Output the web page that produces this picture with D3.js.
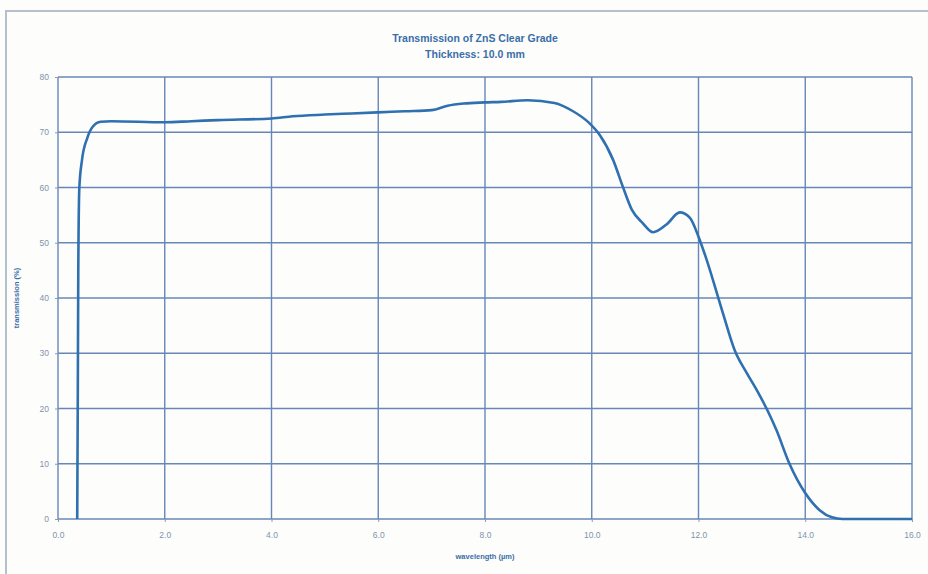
<!DOCTYPE html>
<html lang="en">
<head>
<meta charset="UTF-8">
<title>Transmission of ZnS Clear Grade</title>
<script src="https://cdn.jsdelivr.net/npm/d3@7"></script>
<style>
    body { margin: 0; background: #fdfdfb; font-family: "Liberation Sans", Arial, sans-serif; }
    .grid line { stroke: #6787b8; stroke-width: 1.4px; }
    .axis path, .axis line { stroke: #8c9ab0; }
    .axis text { fill: #7f93ad; font-size: 8.5px; }
    .curve { fill: none; stroke: #2f70b0; stroke-width: 2.6px; }
    .title { fill: #3a6ea8; font-size: 10.5px; font-weight: bold; text-anchor: middle; }
    .axis_label { fill: #3a6ea8; font-size: 7.5px; font-weight: bold; text-anchor: middle; }
</style>
</head>
<body>
<div id="chart"></div>
<script>
    // wavelength (um)
    var wavelength = [0.36, 0.37, 0.38, 0.40, 0.45, 0.55, 0.65, 0.8, 1.0, 2.0, 2.5, 3.0, 4.0, 4.4, 5.0, 5.5,
        6.0, 6.5, 7.0, 7.3, 7.6, 8.0, 8.3, 8.8, 9.3, 9.65, 9.95, 10.15, 10.4, 10.58, 10.75, 10.95, 11.15,
        11.4, 11.65, 11.84, 12.0, 12.15, 12.45, 12.68, 12.9, 13.1, 13.3, 13.46, 13.7, 14.0, 14.27, 14.5,
        14.7, 15.3, 16.0];
    // transmission (%)
    var transmission = [0, 20, 45, 60, 65, 69, 71, 71.9, 72, 71.8, 72.0, 72.2, 72.5, 72.9, 73.2, 73.4,
        73.6, 73.8, 74.0, 74.8, 75.2, 75.4, 75.5, 75.8, 75.3, 73.8, 71.7, 69.5, 65, 60.2, 56.0, 53.6, 51.9,
        53.3, 55.5, 54.5, 51.1, 47.0, 37.5, 30.5, 26.5, 23.2, 19.5, 16.1, 10.1, 4.7, 1.6, 0.3,
        0, 0, 0];

    var xTicks = [0, 2, 4, 6, 8, 10, 12, 14, 16];
    var yTicks = [0, 10, 20, 30, 40, 50, 60, 70, 80];

    var titleLines = ["Transmission of ZnS Clear Grade", "Thickness: 10.0 mm"];
    var xLabel = "wavelength  (\u00b5m)";
    var yLabel = "transmission (%)";

    var W = 928, H = 574;
    var margin = {top: 77, right: 16, bottom: 55, left: 58},
        width = W - margin.left - margin.right,
        height = H - margin.top - margin.bottom;

    var x = d3.scaleLinear().domain([0, 16]).range([0, width]);
    var y = d3.scaleLinear().domain([0, 80]).range([height, 0]);

    var svg = d3.select("#chart").append("svg")
        .attr("width", W)
        .attr("height", H);

    // outer frame (cut off at right and bottom)
    svg.append("path")
        .attr("d", "M6," + H + "V11H" + W)
        .attr("fill", "none")
        .attr("stroke", "#b4c0cc")
        .attr("stroke-width", 2);

    var g = svg.append("g")
        .attr("transform", "translate(" + margin.left + "," + margin.top + ")");

    // grid lines
    g.append("g").attr("class", "grid")
        .selectAll("line").data(yTicks).enter().append("line")
        .attr("x1", 0).attr("x2", width)
        .attr("y1", function(d) { return y(d); })
        .attr("y2", function(d) { return y(d); });

    g.append("g").attr("class", "grid")
        .selectAll("line").data(xTicks).enter().append("line")
        .attr("y1", 0).attr("y2", height)
        .attr("x1", function(d) { return x(d); })
        .attr("x2", function(d) { return x(d); });

    // axes
    g.append("g").attr("class", "axis")
        .attr("transform", "translate(0," + height + ")")
        .call(d3.axisBottom(x).tickValues(xTicks).tickFormat(d3.format(".1f")).tickSize(3).tickPadding(10));

    g.append("g").attr("class", "axis")
        .call(d3.axisLeft(y).tickValues(yTicks).tickFormat(d3.format("d")).tickSize(3).tickPadding(6));

    g.selectAll(".axis .domain").remove();

    // curve
    var points = wavelength.map(function(w, i) { return [w, transmission[i]]; });
    var line = d3.line()
        .x(function(d) { return x(d[0]); })
        .y(function(d) { return y(d[1]); })
        .curve(d3.curveMonotoneX);

    g.append("path")
        .datum(points)
        .attr("class", "curve")
        .attr("d", line);

    // titles
    svg.selectAll(".title").data(titleLines).enter().append("text")
        .attr("class", "title")
        .attr("x", 475)
        .attr("y", function(d, i) { return 42 + i * 16; })
        .text(function(d) { return d; });

    svg.append("text")
        .attr("class", "axis_label")
        .attr("x", margin.left + width / 2)
        .attr("y", 559)
        .text(xLabel);

    svg.append("text")
        .attr("class", "axis_label")
        .attr("transform", "translate(19," + (margin.top + height / 2) + ") rotate(-90)")
        .text(yLabel);
</script>
</body>
</html>
